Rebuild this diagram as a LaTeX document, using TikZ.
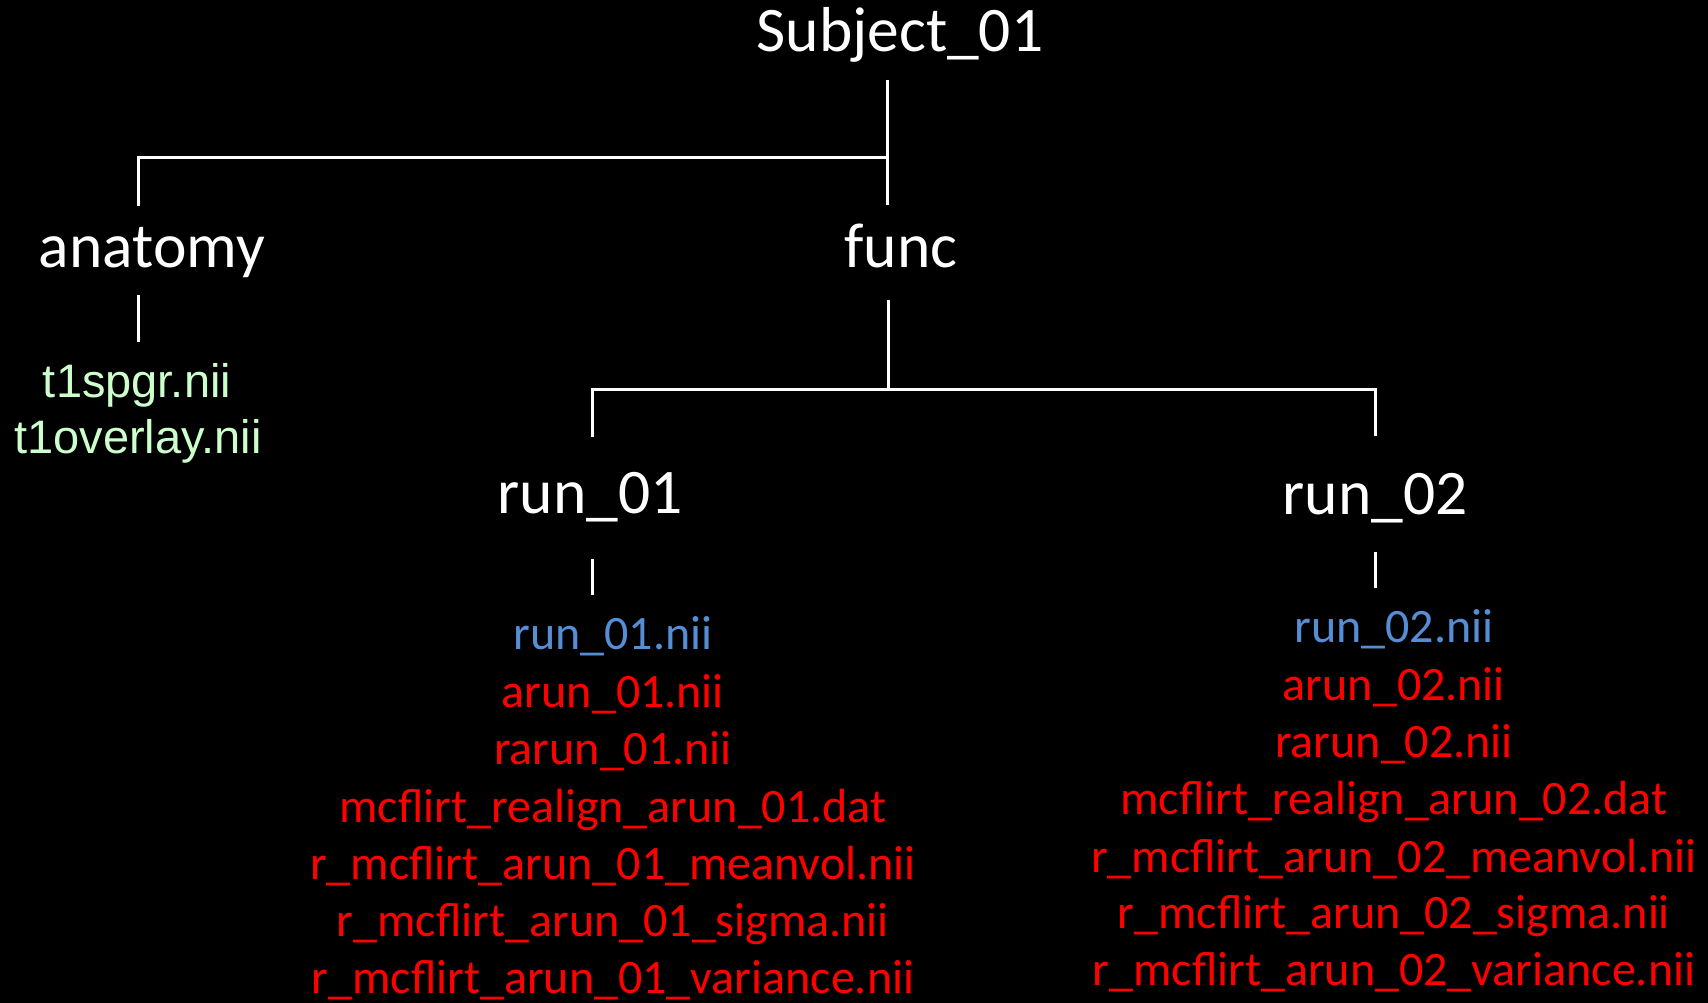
\documentclass[tikz,border=0pt]{standalone}
\usepackage{fontspec}
\setmainfont{Carlito}
\newfontfamily\arialf{Liberation Sans}
\definecolor{filegreen}{RGB}{204,255,204}
\definecolor{fileblue}{RGB}{85,142,213}
\definecolor{filered}{RGB}{255,0,0}
\tikzset{
  dirlabel/.style={anchor=base, inner sep=0pt, text=white, font=\fontsize{63.5}{76}\selectfont},
  anatfile/.style={anchor=base, inner sep=0pt, text=filegreen, font=\arialf\fontsize{47}{56}\selectfont},
  rawfile/.style={anchor=base, inner sep=0pt, text=fileblue, font=\fontsize{48}{57}\selectfont},
  procfile/.style={anchor=base, inner sep=0pt, text=filered, font=\fontsize{48}{57}\selectfont},
  link/.style={draw=white, line width=3pt}
}
\begin{document}
\begin{tikzpicture}[x=1pt,y=-1pt]
\fill[black] (0,0) rectangle (1708,1003);
\useasboundingbox (0,0) rectangle (1708,1003);

% directories
\node[dirlabel] (subject) at (900,52) {Subject\_01};
\node[dirlabel] (anatomy) at (152,267) {anatomy};
\node[dirlabel] (func) at (901,267) {func};
\node[dirlabel] (run1) at (590,513) {run\_01};
\node[dirlabel] (run2) at (1375,514) {run\_02};

% anatomy files
\node[anatfile] (t1spgr) at (137,397) {t1spgr.nii};
\node[anatfile] (t1overlay) at (138,453) {t1overlay.nii};

% run_01 files
\node[rawfile]  (r1a) at (613,649) {run\_01.nii};
\node[procfile] (r1b) at (613,707) {arun\_01.nii};
\node[procfile] (r1c) at (613,764) {rarun\_01.nii};
\node[procfile] (r1d) at (613,822) {mcflirt\_realign\_arun\_01.dat};
\node[procfile] (r1e) at (613,879) {r\_mcflirt\_arun\_01\_meanvol.nii};
\node[procfile] (r1f) at (613,936) {r\_mcflirt\_arun\_01\_sigma.nii};
\node[procfile] (r1g) at (613,993) {r\_mcflirt\_arun\_01\_variance.nii};

% run_02 files
\node[rawfile]  (r2a) at (1394,642) {run\_02.nii};
\node[procfile] (r2b) at (1394,700) {arun\_02.nii};
\node[procfile] (r2c) at (1394,757) {rarun\_02.nii};
\node[procfile] (r2d) at (1394,814) {mcflirt\_realign\_arun\_02.dat};
\node[procfile] (r2e) at (1394,872) {r\_mcflirt\_arun\_02\_meanvol.nii};
\node[procfile] (r2f) at (1394,928) {r\_mcflirt\_arun\_02\_sigma.nii};
\node[procfile] (r2g) at (1394,985) {r\_mcflirt\_arun\_02\_variance.nii};

% connector points
\coordinate (subjTop) at (887,80);
\coordinate (subjJoin) at (887,158);
\coordinate (funcTop) at (887,205);
\coordinate (anatCorner) at (138,158);
\coordinate (anatEnd) at (138,206);
\coordinate (anatFileTop) at (138,295);
\coordinate (anatFileEnd) at (138,342);
\coordinate (funcDown) at (888,300);
\coordinate (funcJoin) at (888,389);
\coordinate (run1Corner) at (592,389);
\coordinate (run1End) at (592,437);
\coordinate (run2Corner) at (1375,389);
\coordinate (run2End) at (1375,436);
\coordinate (run1FileTop) at (592,559);
\coordinate (run1FileEnd) at (592,595);
\coordinate (run2FileTop) at (1375,552);
\coordinate (run2FileEnd) at (1375,588);

% connectors
\draw[link] (subjTop) -- (funcTop);
\draw[link] (subjJoin) -- (anatCorner) -- (anatEnd);
\draw[link] (anatFileTop) -- (anatFileEnd);
\draw[link] (funcDown) -- (funcJoin);
\draw[link] (run1End) -- (run1Corner) -- (run2Corner) -- (run2End);
\draw[link] (run1FileTop) -- (run1FileEnd);
\draw[link] (run2FileTop) -- (run2FileEnd);
\end{tikzpicture}
\end{document}
